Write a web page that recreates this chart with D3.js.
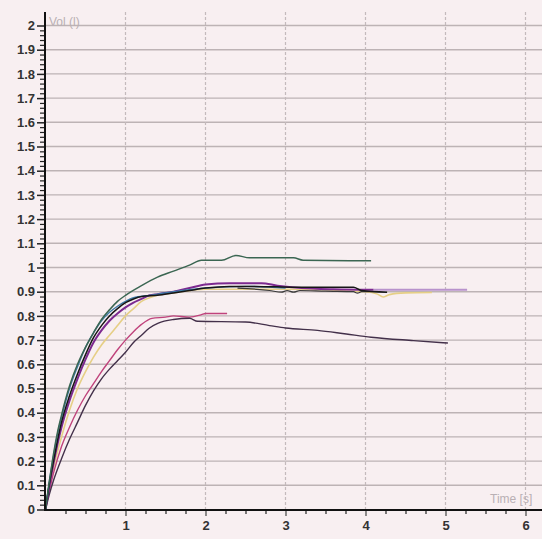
<!DOCTYPE html>
<html><head><meta charset="utf-8">
<script src="https://cdn.jsdelivr.net/npm/d3@7/dist/d3.min.js"></script>
<style>html,body{margin:0;padding:0;background:#f8eff1;}svg{display:block;}</style>
</head><body>
<script>
// ---- data (time s, volume l) ----
const yTicks = [0,0.1,0.2,0.3,0.4,0.5,0.6,0.7,0.8,0.9,1,1.1,1.2,1.3,1.4,1.5,1.6,1.7,1.8,1.9,2];
const xTicks = [1,2,3,4,5,6];
const trialGreen = [[0,0],[0.05,0.12],[0.1,0.23],[0.15,0.32],[0.2,0.39],[0.3,0.51],[0.4,0.6],[0.5,0.67],[0.6,0.73],[0.7,0.785],[0.8,0.825],[0.9,0.86],[1.0,0.885],[1.2,0.925],[1.4,0.96],[1.6,0.985],[1.8,1.01],[1.95,1.03],[2.2,1.03],[2.38,1.05],[2.55,1.04],[3.1,1.04],[3.22,1.03],[4.07,1.028]];
const trialBlue = [[0,0],[0.05,0.12],[0.1,0.22],[0.15,0.31],[0.2,0.38],[0.3,0.5],[0.4,0.59],[0.5,0.67],[0.6,0.73],[0.7,0.78],[0.8,0.815],[0.9,0.84],[1.0,0.86],[1.1,0.875],[1.3,0.885],[1.6,0.9],[2.0,0.915],[2.5,0.922],[3.0,0.915]];
const trialYellow = [[0,0],[0.05,0.09],[0.1,0.17],[0.2,0.3],[0.3,0.41],[0.4,0.5],[0.5,0.57],[0.6,0.63],[0.7,0.68],[0.8,0.72],[0.9,0.76],[1.0,0.8],[1.1,0.83],[1.2,0.86],[1.3,0.875],[1.4,0.885],[1.6,0.895],[2.0,0.91],[3.0,0.91],[4.0,0.9],[4.15,0.89],[4.22,0.878],[4.3,0.888],[4.5,0.895],[4.83,0.897]];
const trialPurple = [[0,0],[0.05,0.1],[0.1,0.19],[0.2,0.34],[0.3,0.45],[0.4,0.54],[0.5,0.62],[0.6,0.69],[0.7,0.74],[0.8,0.78],[0.9,0.81],[1.0,0.835],[1.1,0.855],[1.2,0.87],[1.3,0.885],[1.4,0.89],[1.6,0.9],[1.8,0.915],[2.0,0.93],[2.3,0.935],[2.7,0.935],[2.9,0.925],[3.2,0.915],[3.6,0.91],[4.1,0.908]];
const trialPurpleTail = [[4.1,0.908],[4.6,0.908],[5.27,0.908]];
const trialDotted = [[2.4,0.915],[2.8,0.905],[2.95,0.898],[3.02,0.905],[3.1,0.898],[3.18,0.905],[3.5,0.902],[3.85,0.9],[3.9,0.894],[3.95,0.9],[4.18,0.9]];
const trialBlack = [[0,0],[0.05,0.11],[0.1,0.2],[0.2,0.36],[0.3,0.47],[0.4,0.56],[0.5,0.64],[0.6,0.71],[0.7,0.76],[0.8,0.8],[0.9,0.83],[1.0,0.855],[1.1,0.87],[1.2,0.88],[1.4,0.885],[1.6,0.895],[1.8,0.905],[2.0,0.915],[2.3,0.922],[2.6,0.922],[2.9,0.92],[3.4,0.918],[3.85,0.918],[3.95,0.905],[4.27,0.898]];
const trialPink = [[0,0],[0.05,0.08],[0.1,0.15],[0.2,0.26],[0.3,0.34],[0.4,0.41],[0.5,0.47],[0.6,0.52],[0.7,0.57],[0.8,0.615],[0.9,0.66],[1.0,0.7],[1.1,0.735],[1.2,0.765],[1.33,0.79],[1.5,0.795],[1.6,0.8],[1.8,0.795],[1.95,0.805],[2.0,0.81],[2.27,0.81]];
const trialDark = [[0,0],[0.05,0.065],[0.1,0.12],[0.2,0.21],[0.3,0.29],[0.4,0.36],[0.5,0.43],[0.6,0.49],[0.7,0.54],[0.8,0.58],[0.9,0.615],[1.0,0.65],[1.1,0.69],[1.2,0.72],[1.3,0.75],[1.41,0.77],[1.6,0.785],[1.8,0.79],[1.9,0.778],[2.5,0.775],[2.8,0.76],[3.0,0.75],[3.4,0.74],[3.76,0.725],[4.07,0.712],[4.6,0.698],[5.03,0.688]];

const series = [
  {data: trialYellow, color: "#e6cf86", w: 1.6},
  {data: trialPink, color: "#c0437c", w: 1.4},
  {data: trialDark, color: "#43304a", w: 1.4},
  {data: trialPurpleTail, color: "#b892cc", w: 2},
  {data: trialPurple, color: "#7d2a90", w: 2},
  {data: trialBlue, color: "#3d7ba6", w: 1.4},
  {data: trialDotted, color: "#3a3a3a", w: 1.2},
  {data: trialBlack, color: "#161616", w: 1.5},
  {data: trialGreen, color: "#3b6652", w: 1.5}
];

const W = 542, H = 539;
const svg = d3.select("body").append("svg").attr("width", W).attr("height", H);
svg.append("rect").attr("width", W).attr("height", H).attr("fill", "#f8eff1");

const x = d3.scaleLinear().domain([0, 6]).range([45.5, 525.5]);
const y = d3.scaleLinear().domain([0, 2]).range([509.5, 25.5]);
const topY = 12;
const noLabel = () => "";

// horizontal grid
svg.append("g").selectAll("line").data(yTicks.filter(d => d > 0)).join("line")
  .attr("x1", 45).attr("x2", W).attr("y1", d => y(d)).attr("y2", d => y(d))
  .attr("stroke", "#bdb3b5").attr("stroke-width", 1.4);
// vertical grid
svg.append("g").selectAll("line").data(xTicks).join("line")
  .attr("x1", d => x(d)).attr("x2", d => x(d)).attr("y1", topY).attr("y2", 510)
  .attr("stroke", "#c4babc").attr("stroke-width", 1.2).attr("stroke-dasharray", "3,2");

// curves
const line = d3.line().x(d => x(d[0])).y(d => y(d[1])).curve(d3.curveMonotoneX);
svg.append("g").selectAll("path").data(series).join("path")
  .attr("d", d => line(d.data)).attr("fill", "none")
  .attr("stroke", d => d.color).attr("stroke-width", d => d.w);

// y axis
const yAxis = d3.axisLeft(y).tickValues(yTicks).tickFormat(d3.format("~g")).tickSize(8).tickPadding(2);
const gy = svg.append("g").attr("transform", "translate(45,0)").call(yAxis);
gy.select(".domain").remove();
gy.selectAll(".tick line").attr("stroke", "#222").attr("stroke-width", 1.5);
gy.selectAll("text").attr("font-family", "Liberation Sans, Arial, sans-serif").attr("font-size", 13).attr("fill", "#333").attr("font-weight", "bold");
const yMinor = d3.range(0, 101).map(i => i * 0.02).filter((v, i) => i % 5 !== 0);
const gym = svg.append("g").attr("transform", "translate(45,0)")
  .call(d3.axisLeft(y).tickValues(yMinor).tickFormat(noLabel).tickSize(5));
gym.select(".domain").remove();
gym.selectAll(".tick line").attr("stroke", "#222").attr("stroke-width", 1.2);
svg.append("line").attr("x1", 45).attr("x2", 45).attr("y1", topY).attr("y2", 511).attr("stroke", "#111").attr("stroke-width", 2);

// x axis
const xAxis = d3.axisBottom(x).tickValues(xTicks).tickFormat(d3.format("d")).tickSize(6).tickPadding(5);
const gx = svg.append("g").attr("transform", "translate(0,510)").call(xAxis);
gx.select(".domain").remove();
gx.selectAll(".tick line").attr("stroke", "#444").attr("stroke-width", 1.2);
gx.selectAll("text").attr("font-family", "Liberation Sans, Arial, sans-serif").attr("font-size", 13).attr("fill", "#333").attr("font-weight", "bold");
const xMinor = d3.range(1, 27).map(i => i * 0.25).filter((v, i) => (i + 1) % 4 !== 0);
const gxm = svg.append("g").attr("transform", "translate(0,510)")
  .call(d3.axisBottom(x).tickValues(xMinor).tickFormat(noLabel).tickSize(4));
gxm.select(".domain").remove();
gxm.selectAll(".tick line").attr("stroke", "#333").attr("stroke-width", 1.3);
svg.append("line").attr("x1", 44).attr("x2", W).attr("y1", 510).attr("y2", 510).attr("stroke", "#111").attr("stroke-width", 2);

// axis titles
svg.append("text").attr("x", 49).attr("y", 26).text("Vol (l)")
  .attr("font-family", "Liberation Sans, Arial, sans-serif").attr("font-size", 12).attr("fill", "#b9b0b4");
svg.append("text").attr("x", 490).attr("y", 503).text("Time [s]")
  .attr("font-family", "Liberation Sans, Arial, sans-serif").attr("font-size", 12).attr("fill", "#b9b0b4");
</script>
</body></html>
